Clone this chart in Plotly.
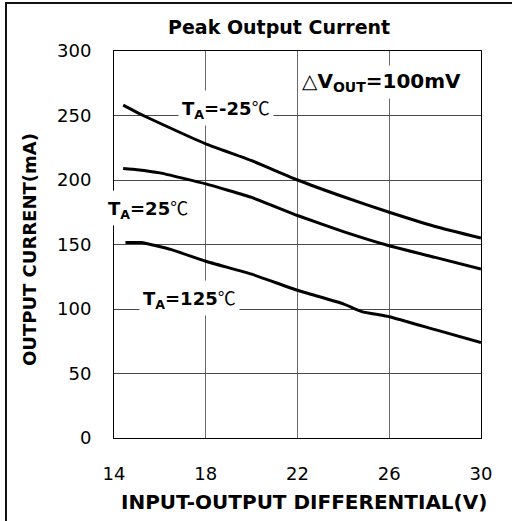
import plotly.graph_objects as go

# Data
x_m25 = [14.4, 15.1, 16, 18, 20, 22, 24, 26, 28, 30]
y_m25 = [258, 251.5, 244, 228, 215, 200, 187, 175, 164, 155]

x_25 = [14.4, 15, 16, 18, 20, 22, 24, 26, 28, 30]
y_25 = [209, 208, 205.5, 197, 186.5, 172.5, 160, 149, 140, 131]

x_125 = [14.5, 15.2, 16.5, 18, 20, 22, 24, 24.8, 26, 28, 30]
y_125 = [151.5, 151.5, 146, 137, 127, 114.5, 104, 98, 94, 84, 74]

x_ticks = [14, 18, 22, 26, 30]
y_ticks = [0, 50, 100, 150, 200, 250, 300]

FONT = "DejaVu Sans"
CEL = "<span style='font-family:Noto Sans CJK SC;font-weight:normal'>℃</span>"

fig = go.Figure()
for xs, ys in [(x_m25, y_m25), (x_25, y_25), (x_125, y_125)]:
    fig.add_trace(go.Scatter(x=xs, y=ys, mode="lines",
                             line=dict(color="black", width=3, shape="spline", smoothing=0.4),
                             showlegend=False, hoverinfo="skip"))

W, H = 512, 521
L, R, T, B = 114, 31, 51, 83
pw, ph = W - L - R, H - T - B

def px(xp):
    return (xp - L) / pw

def py(yp):
    return (H - B - yp) / ph

fig.update_layout(
    width=W, height=H,
    margin=dict(l=L, r=R, t=T, b=B),
    paper_bgcolor="white", plot_bgcolor="white",
    font=dict(family=FONT, color="black"),
    showlegend=False,
)
fig.update_xaxes(range=[14, 30], tickvals=x_ticks, ticktext=[str(v) for v in x_ticks],
                 showgrid=True, gridcolor="#6a6a6a", gridwidth=1,
                 showline=True, linecolor="black", linewidth=1, mirror=True,
                 zeroline=False, ticks="", tickfont=dict(size=18, family=FONT),
                 ticklabelstandoff=19)
fig.update_yaxes(range=[0, 300], tickvals=y_ticks, ticktext=[str(v) for v in y_ticks],
                 showgrid=True, gridcolor="#4a4a4a", gridwidth=1,
                 showline=True, linecolor="black", linewidth=1, mirror=True,
                 zeroline=False, ticks="", tickfont=dict(size=18, family=FONT),
                 ticklabelstandoff=18)

ann = []
# title
ann.append(dict(text="<b>Peak Output Current</b>", xref="paper", yref="paper",
                x=px(279), y=py(27), showarrow=False, font=dict(size=19, family=FONT),
                xanchor="center", yanchor="middle"))
# axis titles
ann.append(dict(text="<b>INPUT-OUTPUT DIFFERENTIAL(V)</b>", xref="paper", yref="paper",
                x=px(303.5), y=py(502), showarrow=False, font=dict(size=20, family=FONT),
                xanchor="center", yanchor="middle"))
ann.append(dict(text="<b>OUTPUT CURRENT(mA)</b>", xref="paper", yref="paper",
                x=px(29), y=py(250), showarrow=False, font=dict(size=18, family=FONT),
                textangle=-90, xanchor="center", yanchor="middle"))
# curve labels: (text, x, y, size)
labels = [
    ("<b>T<sub>A</sub>=-25</b>" + CEL, 18.9, 255.8, 18),
    ("<b>T<sub>A</sub>=25</b>" + CEL, 15.5, 178, 18),
    ("<b>T<sub>A</sub>=125</b>" + CEL, 17.29, 108.5, 18),
    ("<span style='font-weight:normal'>△</span><b>V<sub>OUT</sub>=100mV</b>", 25.68, 275.9, 20),
]
for txt, xv, yv, fs in labels:
    ann.append(dict(text=txt, x=xv, y=yv, xref="x", yref="y", showarrow=False,
                    font=dict(size=fs, family=FONT), bgcolor="white", borderpad=3,
                    xanchor="center", yanchor="middle"))
fig.update_layout(annotations=ann)

# outer frame of the original picture (left and top edges), drawn as an overlay
post = (
    "document.body.style.margin='0';"
    "document.body.style.overflow='hidden';"
    "var f=document.createElement('div');"
    "f.style.cssText='position:absolute;left:5px;top:2px;width:700px;height:700px;"
    "border-left:2px solid #111;border-top:2px solid #111;pointer-events:none;z-index:10;';"
    "document.body.appendChild(f);"
)
fig.write_html("out.html",
               config={"displayModeBar": False, "staticPlot": True},
               post_script=post)
